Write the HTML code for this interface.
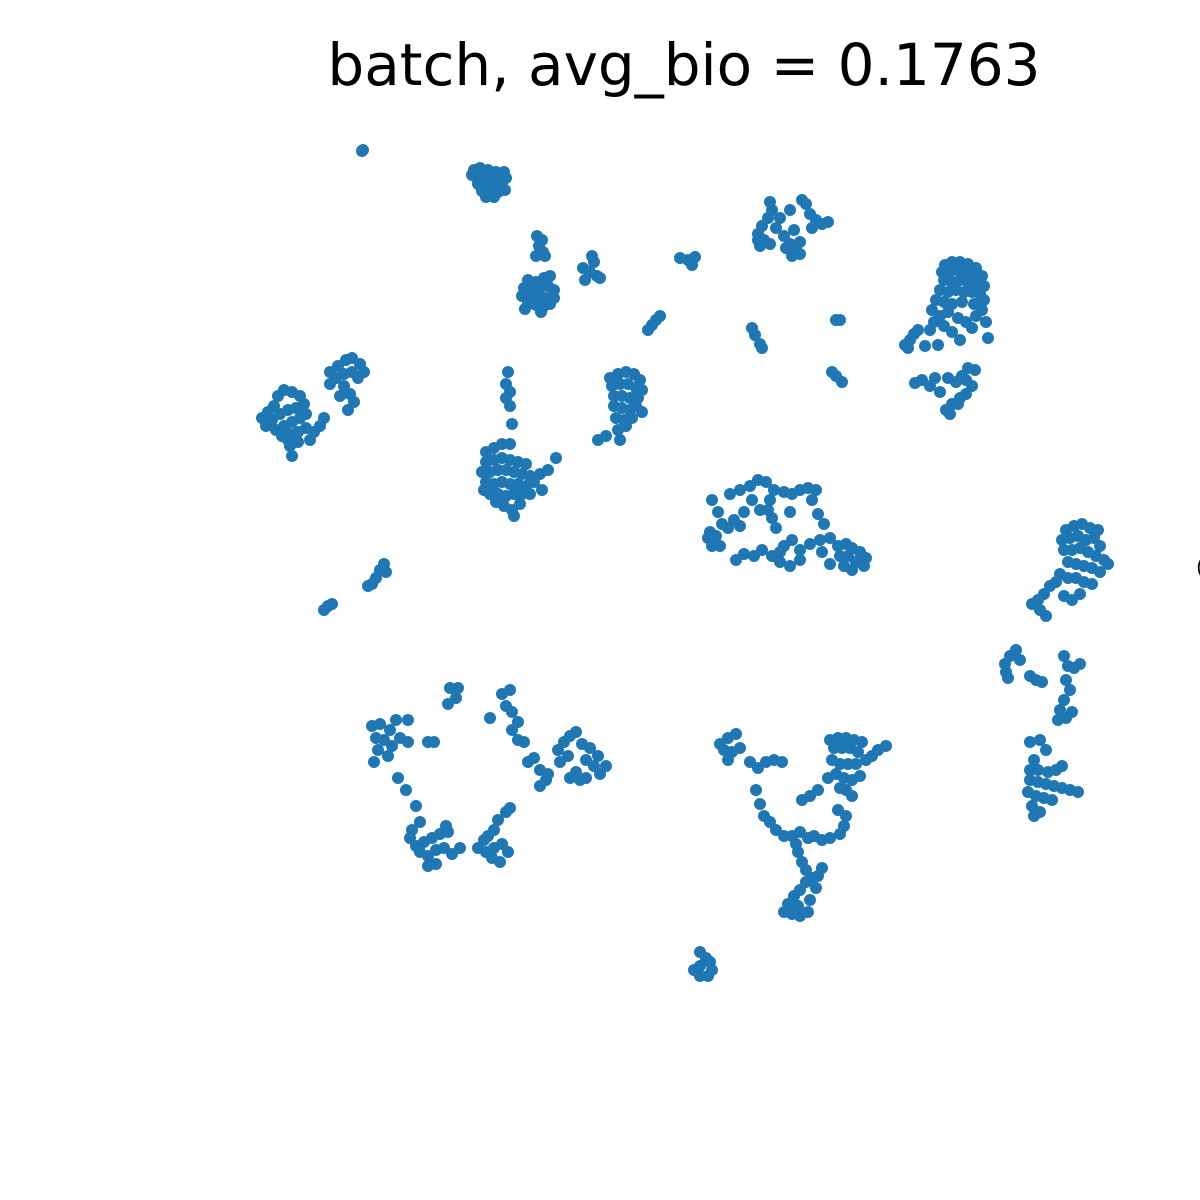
<!DOCTYPE html>
<html><head><meta charset="utf-8"><style>
html,body{margin:0;padding:0;background:#fff;width:1200px;height:1200px;overflow:hidden}
svg{display:block}
</style></head><body>
<svg id="chart" width="1200" height="1200" viewBox="0 0 1200 1200" xmlns="http://www.w3.org/2000/svg">
<text x="684" y="85" text-anchor="middle" font-family="DejaVu Sans, Liberation Sans, sans-serif" font-size="58" fill="#000">batch, avg_bio = 0.1763</text>
<text x="1196" y="574" font-family="DejaVu Sans, Liberation Sans, sans-serif" font-size="20" fill="#000">(</text>
<g id="pts"></g>
</svg>
<script>
const umapPoints = [
[363,150],[362,151],
[474,170],[480,168],[488,170],[496,172],[504,172],[476,177],[484,176],[492,178],[500,180],[506,178],[478,184],[486,184],[494,186],[502,186],[482,191],[490,192],[498,192],[486,197],[494,197],[472,175],[505,190],
[537,236],[542,240],[539,246],[543,252],[536,256],[545,256],
[528,280],[536,282],[544,278],[550,276],[524,288],[532,290],[540,288],[548,286],[554,290],[522,296],[530,298],[538,296],[546,298],[554,298],[528,304],[536,305],[544,306],[541,312],[525,309],[550,304],
[583,268],[590,272],[597,276],[585,280],[592,256],[594,262],[600,278],
[680,258],[688,260],[695,257],[692,265],
[648,330],[652,325],[656,320],[660,316],
[770,202],[772,210],[768,218],[762,226],[758,234],[764,240],[770,244],[760,246],[776,228],[784,236],[790,244],[796,250],[800,254],[792,256],[786,248],[794,230],[802,200],[806,204],[810,214],[816,220],[822,224],[828,222],[812,228],[790,210],[780,218],[800,242],[758,240],
[945,265],[952,262],[960,262],[968,264],[976,268],[942,272],[950,272],[958,270],[966,272],[974,274],[982,276],[944,280],[952,282],[960,280],[968,282],[976,284],[984,286],[940,290],[948,292],[956,290],[964,292],[972,292],[980,294],[984,300],[936,300],[944,302],[952,304],[962,302],[974,304],[982,310],[932,310],[940,316],[948,312],[958,318],[966,322],[976,316],[986,322],[944,326],[952,332],[960,340],[972,328],[988,338],[934,322],[930,330],
[905,345],[910,340],[914,334],[918,330],[908,348],[925,346],[938,345],
[915,383],[922,380],[930,386],[940,392],[948,378],[956,382],[962,376],[968,368],[975,370],[972,386],[966,394],[960,398],[952,404],[946,410],[950,414],[958,404],[966,380],[935,378],
[752,328],[755,335],[760,344],[762,348],[836,320],[840,320],[832,372],[836,376],[842,382],
[262,418],[268,412],[274,406],[278,396],[284,390],[292,392],[300,396],[266,426],[272,420],[280,414],[288,410],[296,408],[304,404],[276,430],[284,426],[292,422],[300,418],[306,414],[282,436],[290,434],[298,432],[306,428],[314,432],[320,426],[324,418],[290,446],[292,456],[288,440],[270,424],[298,442],[310,440],
[330,372],[338,366],[346,360],[352,358],[360,364],[364,372],[336,378],[344,374],[352,372],[358,378],[344,386],[350,394],[354,402],[348,410],[340,396],[330,384],
[508,372],[506,384],[510,392],[506,398],[510,406],[512,424],
[486,452],[494,448],[502,444],[510,444],[486,462],[494,460],[502,458],[510,460],[518,462],[526,464],[482,472],[490,472],[498,470],[506,470],[514,472],[522,474],[530,476],[486,482],[494,484],[502,482],[510,484],[518,484],[526,486],[534,482],[490,494],[498,494],[506,496],[514,494],[522,494],[530,494],[496,502],[504,506],[512,510],[520,504],[514,516],[540,474],[548,470],[556,458],[542,490],[484,490],
[610,378],[618,374],[626,372],[634,374],[640,380],[612,386],[620,384],[628,384],[636,388],[642,390],[614,396],[622,396],[630,398],[638,398],[614,406],[622,408],[630,410],[636,406],[616,418],[624,420],[632,418],[618,430],[626,426],[620,440],[606,436],[598,440],[642,412],
[712,500],[718,512],[722,524],[710,532],[714,542],[720,546],[728,528],[734,520],[740,526],[744,512],[730,494],[740,490],[750,486],[758,480],[766,482],[774,490],[770,500],[768,510],[772,518],[776,528],[760,510],[752,500],[784,492],[792,494],[800,490],[808,488],[816,490],[812,500],[818,514],[824,524],[790,512],[736,560],[744,554],[754,556],[762,550],[772,556],[780,562],[790,566],[800,560],[784,546],[792,540],[780,552],[810,544],[820,540],[830,538],[838,546],[846,544],[852,548],[860,552],[866,558],[840,556],[848,556],[856,562],[864,566],[844,566],[852,570],[830,564],[822,552],[800,550],[708,538],[712,546],[716,536],
[1066,530],[1074,526],[1082,524],[1090,528],[1098,530],[1062,540],[1070,538],[1078,536],[1086,540],[1094,538],[1100,546],[1064,550],[1072,550],[1080,548],[1088,552],[1096,556],[1104,560],[1108,564],[1068,562],[1076,564],[1084,566],[1092,568],[1100,572],[1060,574],[1068,578],[1076,578],[1084,582],[1092,584],[1050,586],[1056,582],[1044,594],[1038,600],[1032,604],[1040,610],[1046,616],[1064,596],[1072,600],[1080,594],
[372,584],[368,586],[376,578],[380,570],[384,564],[386,572],[324,610],[328,606],[332,604],
[1005,664],[1010,656],[1016,650],[1020,660],[1008,678],[1006,672],[1030,676],[1036,680],[1042,682],[1064,656],[1068,666],[1074,668],[1080,664],[1066,680],[1070,690],[1064,700],[1060,710],[1066,718],[1072,712],[1058,720],
[1030,742],[1040,740],[1046,750],[1034,760],[1030,770],[1038,770],[1048,772],[1056,770],[1062,766],[1030,780],[1038,782],[1046,784],[1054,786],[1062,788],[1070,790],[1078,792],[1028,792],[1036,796],[1044,798],[1052,800],[1032,806],[1040,812],[1034,816],
[372,726],[380,724],[390,730],[400,738],[408,742],[376,738],[384,740],[392,746],[378,750],[388,756],[374,762],[396,720],[408,720],[428,742],[434,742],[450,688],[458,688],[456,698],[448,704],[490,718],[502,694],[510,690],[506,706],[512,712],[518,722],[512,730],[518,740],[524,742],
[528,762],[534,758],[540,770],[546,780],[540,786],[548,774],[558,750],[564,742],[570,736],[576,732],[582,744],[590,748],[598,756],[606,766],[594,766],[586,760],[576,772],[570,778],[580,780],[560,762],[568,756],[600,774],[586,778],
[398,778],[406,790],[416,806],[420,822],[410,838],[416,846],[424,842],[432,838],[440,834],[448,832],[420,852],[428,856],[436,850],[444,848],[428,866],[436,864],[412,830],[446,826],[460,848],[452,854],
[478,848],[486,852],[494,848],[502,844],[508,852],[500,862],[492,858],[484,840],[494,830],[498,820],[506,812],[510,808],[488,836],
[720,744],[728,738],[736,734],[724,750],[732,752],[740,748],[728,760],[750,762],[758,768],[766,762],[774,760],[782,762],[756,790],[760,804],[764,816],[770,822],[776,830],[784,836],[792,836],[800,832],[808,838],[814,836],[822,840],[830,838],[840,834],[844,826],[846,816],[838,810],[802,800],[810,796],[818,790],[798,852],[796,844],[802,862],[806,870],[812,878],[818,876],[822,868],[806,882],[800,890],[794,896],[788,904],[784,912],[792,914],[800,916],[808,912],[810,900],[798,906],[816,888],
[830,740],[838,738],[846,738],[854,740],[862,742],[834,748],[842,748],[850,748],[858,752],[832,760],[840,764],[848,764],[856,764],[836,774],[844,778],[852,780],[860,776],[846,790],[852,796],[840,788],[866,760],[872,756],[878,750],[886,746],[828,778],
[700,952],[706,958],[710,962],[700,966],[694,970],[700,976],[708,976],[712,970]
];
const xDomain = [0, 1200], yDomain = [0, 1200];
function xScale(v){ return (v - xDomain[0]) / (xDomain[1]-xDomain[0]) * 1200; }
function yScale(v){ return (v - yDomain[0]) / (yDomain[1]-yDomain[0]) * 1200; }
const g = document.getElementById('pts');
const NS = 'http://www.w3.org/2000/svg';
umapPoints.forEach(function(p){
  const c = document.createElementNS(NS,'circle');
  c.setAttribute('cx', xScale(p[0]));
  c.setAttribute('cy', yScale(p[1]));
  c.setAttribute('r', 6);
  c.setAttribute('fill', '#1f77b4');
  
  
  g.appendChild(c);
});
</script>
</body></html>
